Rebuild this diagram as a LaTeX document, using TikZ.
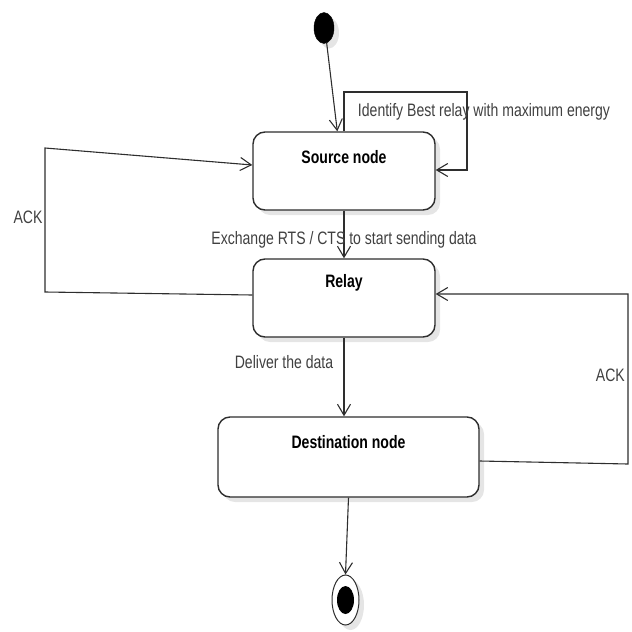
\documentclass[tikz,border=0pt]{standalone}
\usepackage{fontspec}
\setmainfont{Liberation Sans}[FakeStretch=0.78]
\usetikzlibrary{arrows.meta,shadows,calc,shapes.geometric}
\definecolor{ln}{HTML}{2E2E2E}
\definecolor{tx}{HTML}{404040}
\begin{document}
\begin{tikzpicture}[x=1pt,y=-1pt,
  shd/.style={drop shadow={shadow xshift=5pt,shadow yshift=-5pt,fill=black!10,opacity=1}},
  state/.style={draw=ln,line width=1.4pt,rounded corners=12pt,fill=white,shd,inner sep=0pt},
  title/.style={font=\fontsize{18}{20}\selectfont\bfseries,text=black,inner sep=0pt},
  lab/.style={font=\fontsize{18}{20}\selectfont,text=tx,inner sep=0pt},
  arr/.style={draw=ln,line width=1.1pt,-{Straight Barb[length=11pt,width=13pt,line width=1.1pt]}},
  conn/.style={draw=ln,line width=1.1pt}]
\useasboundingbox (0,0) rectangle (632,632);
% states
\node[state,minimum width=182pt,minimum height=78pt] (src) at (344,171) {};
\node[state,minimum width=182pt,minimum height=78pt] (relay) at (344,298) {};
\node[state,minimum width=261pt,minimum height=80pt] (dest) at (348.5,457) {};
\node[title] (srct) at ($(src.north)+(0,26)$) {Source node};
\node[title] (relayt) at ($(relay.north)+(0,25)$) {Relay};
\node[title] (destt) at ($(dest.north)+(0,26)$) {Destination node};
% initial and final
\node[draw=black,fill=black,ellipse,minimum width=20pt,minimum height=31pt,inner sep=0pt,shd] (init) at (324,28) {};
\node[draw=ln,line width=1pt,fill=white,ellipse,minimum width=27pt,minimum height=50pt,inner sep=0pt,shd] (fin) at (345.5,600) {};
\node[fill=black,ellipse,minimum width=17pt,minimum height=28pt,inner sep=0pt] (finin) at (fin.center) {};
% connectors
\draw[arr] (init.-80) -- ($(src.north west)+(85,0)$);
\coordinate (loopc) at (467,92);
\draw[arr] (src.north) |- (loopc) |- ($(src.east)+(0,-1)$);
\node[lab] (l1) at (484,112) {Identify Best relay with maximum energy};
\draw[arr] (src.south) -- (relay.north);
\node[lab] (l2) at (344,240) {Exchange RTS / CTS to start sending data};
\coordinate (lb) at (45,292);
\coordinate (lt) at (45,148);
\draw[arr] ($(relay.west)+(0,-3)$) -- (lb) -- (lt) -- ($(src.west)+(0,-6)$);
\node[lab] (ack1) at (28,217) {ACK};
\draw[arr] (relay.south) -- (relay.south |- dest.north);
\node[lab] (l3) at (284,362) {Deliver the data};
\coordinate (rb) at (628,464);
\coordinate (rt) at (628,294);
\draw[arr] ($(dest.east)+(0,4)$) -- (rb) -- (rt) -- ($(relay.east)+(0,-4)$);
\node[lab,anchor=east] (ack2) at (625,375) {ACK};
\draw[arr] (dest.south) -- (fin.north);
\end{tikzpicture}
\end{document}
